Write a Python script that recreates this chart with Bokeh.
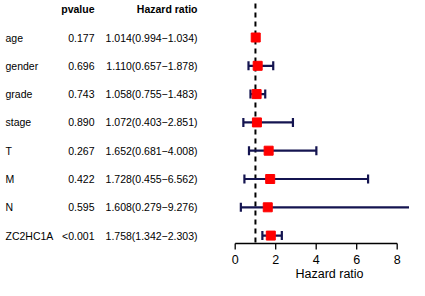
import math
from bokeh.plotting import figure
from bokeh.models import Range1d, ColumnDataSource
from bokeh.core.properties import value
from bokeh.embed import file_html
from bokeh.resources import INLINE

# ---- data ----
variables = ["age", "gender", "grade", "stage", "T", "M", "N", "ZC2HC1A"]
pvalues = ["0.177", "0.696", "0.743", "0.890", "0.267", "0.422", "0.595", "<0.001"]
hr = [1.014, 1.110, 1.058, 1.072, 1.652, 1.728, 1.608, 1.758]
lower = [0.994, 0.657, 0.755, 0.403, 0.681, 0.455, 0.279, 1.342]
upper = [1.034, 1.878, 1.483, 2.851, 4.008, 6.562, 9.276, 2.303]
x_ticks = [0, 2, 4, 6, 8]
x_title = "Hazard ratio"

hr_text = ["%.3f(%.3f\u2212%.3f)" % (h, l, u) for h, l, u in zip(hr, lower, upper)]
rows = list(range(len(variables)))

# ---- layout (pixel helpers) ----
W, H = 409, 280
X0_PX = 234.7      # pixel of HR = 0
SCALE = 20.25      # px per HR unit
ROW0 = 37.0        # pixel of first row
ROW_STEP = 28.3
AXIS_PY = 243.0

def px_to_x(px):
    return (px - X0_PX) / SCALE

def py_to_row(py):
    return (py - ROW0) / ROW_STEP

p = figure(width=W, height=H, output_backend="svg", toolbar_location=None,
           x_range=Range1d(px_to_x(0), px_to_x(W)),
           y_range=Range1d(py_to_row(H), py_to_row(0)),
           min_border_left=0, min_border_right=0, min_border_top=0,
           min_border_bottom=0)
p.outline_line_color = None
p.grid.visible = False
p.xaxis.visible = False
p.yaxis.visible = False
p.background_fill_color = "white"
p.border_fill_color = "white"

font = value("Liberation Sans")

# manual x axis spanning 0..8
axis_y = py_to_row(AXIS_PY)
tick_end = py_to_row(AXIS_PY + 6)
p.segment(x0=[x_ticks[0]], x1=[x_ticks[-1]], y0=[axis_y], y1=[axis_y],
          line_color="black", line_width=1.3)
p.segment(x0=x_ticks, x1=x_ticks, y0=[axis_y] * len(x_ticks),
          y1=[tick_end] * len(x_ticks), line_color="black", line_width=1.3)
p.text(x=x_ticks, y=[py_to_row(259)] * len(x_ticks),
       text=[str(t) for t in x_ticks], text_font=font,
       text_font_size=value("12.5px"), text_align="center",
       text_baseline="middle", text_color="black")
p.text(x=[px_to_x(329)], y=[py_to_row(273)], text=[x_title], text_font=font,
       text_font_size=value("12.5px"), text_align="center",
       text_baseline="middle", text_color="black")

# reference line at HR = 1
p.segment(x0=[1], x1=[1], y0=[py_to_row(3)], y1=[axis_y],
          line_color="black", line_width=2, line_dash="5 4")

src = ColumnDataSource(dict(row=rows, hr=hr, lower=lower, upper=upper,
                            var=variables, pv=pvalues, hrt=hr_text))

bar_col = "#141450"
p.segment(x0="lower", x1="upper", y0="row", y1="row", source=src,
          line_color=bar_col, line_width=2.2)
p.scatter(x="lower", y="row", source=src, marker="dash", angle=math.pi / 2,
          size=9, line_color=bar_col, line_width=2.2)
p.scatter(x="upper", y="row", source=src, marker="dash", angle=math.pi / 2,
          size=9, line_color=bar_col, line_width=2.2)
p.scatter(x="hr", y="row", source=src, marker="square", size=9,
          fill_color="#ff0000", line_color="#ff0000")

fs = value("10.5px")
p.text(x=px_to_x(5), y="row", text="var", source=src, text_font=font,
       text_font_size=fs, text_align="left", text_baseline="middle",
       text_color="black")
p.text(x=px_to_x(94), y="row", text="pv", source=src, text_font=font,
       text_font_size=fs, text_align="right", text_baseline="middle",
       text_color="black")
p.text(x=px_to_x(197), y="row", text="hrt", source=src, text_font=font,
       text_font_size=fs, text_align="right", text_baseline="middle",
       text_color="black")

header_y = py_to_row(8)
p.text(x=[px_to_x(94), px_to_x(197)], y=[header_y, header_y],
       text=["pvalue", "Hazard ratio"], text_font=font, text_font_size=fs,
       text_font_style="bold", text_align="right", text_baseline="middle",
       text_color="black")

open("out.html", "w").write(file_html(p, INLINE))
